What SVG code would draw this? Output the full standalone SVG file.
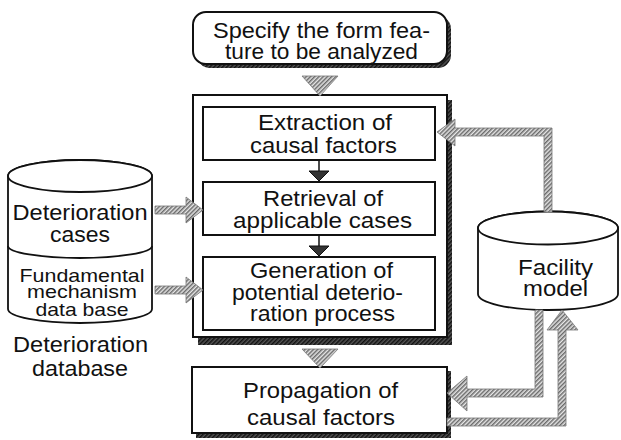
<svg xmlns="http://www.w3.org/2000/svg" width="621" height="440" viewBox="0 0 621 440">
<defs>
<pattern id="hatch" patternUnits="userSpaceOnUse" width="3" height="3" patternTransform="rotate(45)">
<rect width="3" height="3" fill="#e6e6e6"/>
<rect width="1.5" height="3" fill="#6a6a6a"/>
</pattern>
<pattern id="dark" patternUnits="userSpaceOnUse" width="3" height="3" patternTransform="rotate(45)">
<rect width="3" height="3" fill="#555"/>
<rect width="1.5" height="3" fill="#111"/>
</pattern>
</defs>
<style>
.t{font-family:"Liberation Sans",Arial,sans-serif;font-size:22px;fill:#111;text-anchor:middle}
.s{font-size:19px}
.box{fill:#fff;stroke:#111;stroke-width:2}
.cyl{fill:#fff;stroke:#111;stroke-width:1.8}
.h{fill:url(#hatch);stroke:#777;stroke-width:0.8}
.d{fill:#333;stroke:#111;stroke-width:1}
</style>
<rect width="621" height="440" fill="#fff"/>

<g id="start">
<rect x="197" y="16" width="254" height="52" rx="13" fill="url(#dark)"/>
<rect class="box" x="193" y="12" width="254" height="52" rx="13"/>
<text class="t" x="321.5" y="38" textLength="217" lengthAdjust="spacingAndGlyphs">Specify the form fea-</text>
<text class="t" x="321.5" y="59" textLength="193" lengthAdjust="spacingAndGlyphs">ture to be analyzed</text>
</g>

<g id="analysis">
<rect x="198" y="100" width="254" height="245" fill="url(#dark)"/>
<rect class="box" x="193" y="95" width="254" height="242"/>
</g>

<g id="extraction">
<rect class="box" x="203" y="107" width="232" height="53"/>
<text class="t" x="325" y="130" textLength="134" lengthAdjust="spacingAndGlyphs">Extraction of</text>
<text class="t" x="323.5" y="153" textLength="147" lengthAdjust="spacingAndGlyphs">causal factors</text>
</g>

<g id="retrieval">
<rect class="box" x="203" y="182" width="232" height="53"/>
<text class="t" x="323" y="206" textLength="120" lengthAdjust="spacingAndGlyphs">Retrieval of</text>
<text class="t" x="322.5" y="228" textLength="179" lengthAdjust="spacingAndGlyphs">applicable cases</text>
</g>

<g id="generation">
<rect class="box" x="203" y="257" width="232" height="73"/>
<text class="t" x="321.5" y="278" textLength="143" lengthAdjust="spacingAndGlyphs">Generation of</text>
<text class="t" x="317.5" y="300" textLength="171" lengthAdjust="spacingAndGlyphs">potential deterio-</text>
<text class="t" x="322.5" y="321" textLength="145" lengthAdjust="spacingAndGlyphs">ration process</text>
</g>

<g id="propagation">
<rect x="196" y="371" width="255" height="67" fill="url(#dark)"/>
<rect class="box" x="192" y="367" width="255" height="66"/>
<text class="t" x="320.5" y="398" textLength="155" lengthAdjust="spacingAndGlyphs">Propagation of</text>
<text class="t" x="321" y="425" textLength="148" lengthAdjust="spacingAndGlyphs">causal factors</text>
</g>

<g id="deterioration-db">
<path class="cyl" d="M8,176 L8,309 A72,14 0 0 0 152,309 L152,176 A72,16 0 0 0 8,176 Z"/>
<ellipse class="cyl" cx="80" cy="176" rx="72" ry="16"/>
<path class="cyl" fill="none" d="M8,246 A72,12 0 0 0 152,246"/>
<text class="t" x="80" y="220" textLength="135" lengthAdjust="spacingAndGlyphs">Deterioration</text>
<text class="t" x="80" y="242" textLength="60" lengthAdjust="spacingAndGlyphs">cases</text>
<text class="t s" x="82" y="282" textLength="125" lengthAdjust="spacingAndGlyphs">Fundamental</text>
<text class="t s" x="82" y="298" textLength="110" lengthAdjust="spacingAndGlyphs">mechanism</text>
<text class="t s" x="82" y="316" textLength="93" lengthAdjust="spacingAndGlyphs">data base</text>
<text class="t" x="80.5" y="352" textLength="135" lengthAdjust="spacingAndGlyphs">Deterioration</text>
<text class="t" x="80" y="376" textLength="96" lengthAdjust="spacingAndGlyphs">database</text>
</g>

<g id="facility">
<path class="cyl" d="M478,228 L478,294 A70,16 0 0 0 618,294 L618,228 A70,16.5 0 0 0 478,228 Z"/>
<ellipse class="cyl" cx="548" cy="228" rx="70" ry="16.5"/>
<text class="t" x="555.5" y="275" textLength="75" lengthAdjust="spacingAndGlyphs">Facility</text>
<text class="t" x="555.5" y="296" textLength="65" lengthAdjust="spacingAndGlyphs">model</text>
</g>

<g id="connectors">
<polygon class="h" points="302,76 338,76 320,96"/>
<polygon class="h" points="302,349 338,349 320,368"/>
<line x1="319" y1="160" x2="319" y2="172" stroke="#111" stroke-width="1.5"/>
<polygon class="d" points="309,171 329,171 319,181"/>
<line x1="319" y1="235" x2="319" y2="247" stroke="#111" stroke-width="1.5"/>
<polygon class="d" points="309,246 329,246 319,256"/>
<polygon class="h" points="155,206 186,206 186,197 203,210 186,223 186,214 155,214"/>
<polygon class="h" points="155,286 186,286 186,277 203,290 186,303 186,294 155,294"/>
<polygon class="h" points="552,212 552,128 455,128 455,119 437,132 455,146 455,136 544,136 544,212"/>
<polygon class="h" points="543,310 543,397 467,397 467,411 447,393 467,376 467,389 535,389 535,310"/>
<polygon class="h" points="447,418 558,418 558,330 547,330 562,310 578,330 566,330 566,426 447,426"/>
</g>
</svg>
